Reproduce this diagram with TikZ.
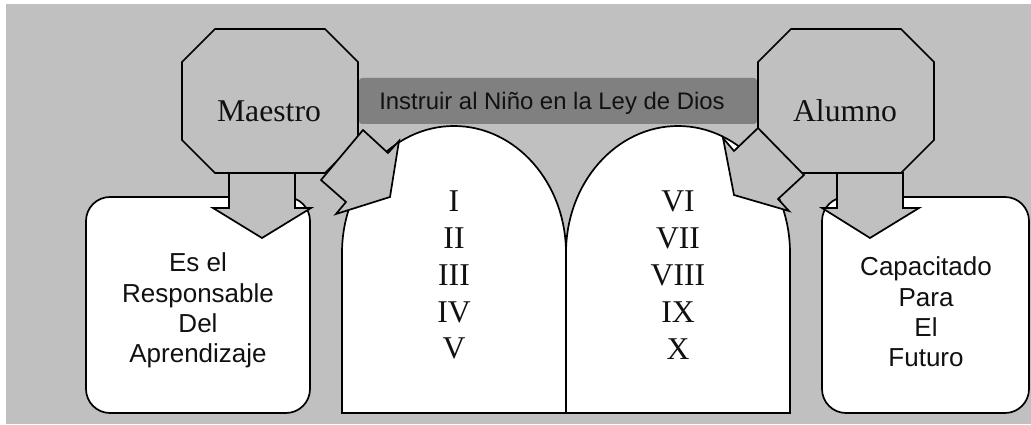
\documentclass[tikz,border=0pt]{standalone}
\usepackage{fontspec}
\setmainfont{Liberation Serif}
\setsansfont{Liberation Sans}
\definecolor{panel}{HTML}{C0C0C0}
\definecolor{bar}{HTML}{808080}
\definecolor{ink}{HTML}{111111}
\tikzset{
  outline/.style={draw=black,line width=1.7pt,line join=miter},
  grayshape/.style={outline,fill=panel},
  whiteshape/.style={outline,fill=white},
  serifbig/.style={text=ink,inner sep=0pt,font=\fontsize{31.7}{36.9}\selectfont},
  sansbig/.style={text=ink,inner sep=0pt,align=center,font=\sffamily\fontsize{26}{30.4}\selectfont},
}
\begin{document}
\begin{tikzpicture}[x=1pt,y=-1pt]
\useasboundingbox (0,0) rectangle (1031,425);
\fill[white] (0,0) rectangle (1031,425);
\fill[panel] (6,4) rectangle (1031,424);
% side boxes
\draw[whiteshape,rounded corners=24pt] (86,197) rectangle (310,413);
\draw[whiteshape,rounded corners=24pt] (822,197) rectangle (1029,413);
% tablets
\draw[whiteshape] (342,413) -- (342,253) arc[start angle=180,end angle=0,x radius=112pt,y radius=127pt] -- (566,413) -- cycle;
\draw[whiteshape] (566,413) -- (566,253) arc[start angle=180,end angle=0,x radius=112pt,y radius=127pt] -- (790,413) -- cycle;
% title bar
\fill[bar,rounded corners=3pt] (359,78) rectangle (757,124);
\node[text=ink,inner sep=0pt,font=\sffamily\fontsize{23.9}{28}\selectfont] (titulo) at (552,103) {Instruir al Niño en la Ley de Dios};
% down arrows
\draw[grayshape] (229,173) -- (229,208) -- (213,208) -- (262,238) -- (311,208) -- (295,208) -- (295,173) -- cycle;
\draw[grayshape] (837,173) -- (837,208) -- (822,208) -- (870,238) -- (919,208) -- (903,208) -- (903,173) -- cycle;
% octagons
\draw[grayshape] (215,29) -- (325,29) -- (358,62) -- (358,140) -- (325,173) -- (215,173) -- (182,140) -- (182,62) -- cycle;
\draw[grayshape] (791,29) -- (901,29) -- (934,62) -- (934,140) -- (901,173) -- (791,173) -- (758,140) -- (758,62) -- cycle;
\node[serifbig,anchor=base] (maestro) at (269,122) {Maestro};
\node[serifbig,anchor=base] (alumno) at (845,122) {Alumno};
% diagonal arrows
\draw[grayshape] (363,130) -- (388,153) -- (399,141) -- (390,197) -- (336,214) -- (346,202) -- (321,180) -- cycle;
\draw[grayshape] (758,128) -- (734,151) -- (723,138) -- (734,195) -- (789,211) -- (778,199) -- (804,175) -- cycle;
% numerals
\node[serifbig,align=center] (izq) at (454,275) {I\\II\\III\\IV\\V};
\node[serifbig,align=center] (der) at (678,275) {VI\\VII\\VIII\\IX\\X};
% box texts
\node[sansbig] (resp) at (198,310.5) {Es el\\Responsable\\Del\\Aprendizaje};
\node[sansbig] (cap) at (926,312) {Capacitado\\Para\\El\\Futuro};
\end{tikzpicture}
\end{document}
